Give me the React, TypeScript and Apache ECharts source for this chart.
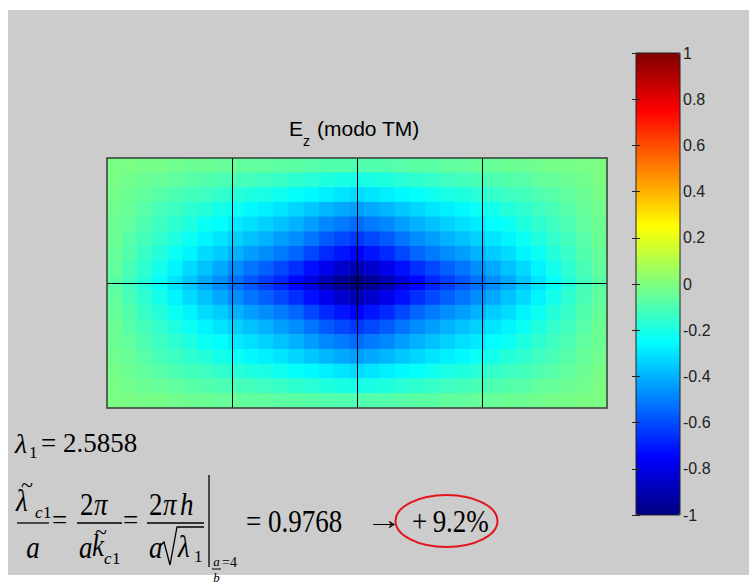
import React, { useEffect, useRef } from 'react';
import * as echarts from 'echarts';

// Ez field (TM mode), one quadrant:
// rows go from the centre line outward (vertical), columns from the centre column outward (horizontal).
// The field is mirror-symmetric about both centre lines.
const fieldQuadrant: number[][] = [
  [-1.00,-0.95,-0.89,-0.81,-0.74,-0.68,-0.63,-0.58,-0.53,-0.47,-0.42,-0.36,-0.30,-0.24,-0.18,-0.12,-0.07],
  [-0.89,-0.85,-0.79,-0.72,-0.66,-0.61,-0.56,-0.52,-0.47,-0.42,-0.37,-0.32,-0.27,-0.21,-0.16,-0.11,-0.06],
  [-0.75,-0.71,-0.67,-0.61,-0.55,-0.51,-0.47,-0.44,-0.40,-0.35,-0.32,-0.27,-0.23,-0.18,-0.14,-0.09,-0.05],
  [-0.64,-0.61,-0.57,-0.52,-0.47,-0.44,-0.40,-0.37,-0.34,-0.30,-0.27,-0.23,-0.19,-0.15,-0.12,-0.08,-0.04],
  [-0.54,-0.51,-0.48,-0.44,-0.40,-0.37,-0.34,-0.31,-0.29,-0.25,-0.23,-0.19,-0.16,-0.13,-0.10,-0.06,-0.04],
  [-0.44,-0.42,-0.39,-0.36,-0.33,-0.30,-0.28,-0.26,-0.23,-0.21,-0.18,-0.16,-0.13,-0.11,-0.08,-0.05,-0.03],
  [-0.32,-0.30,-0.28,-0.26,-0.24,-0.22,-0.20,-0.19,-0.17,-0.15,-0.13,-0.12,-0.10,-0.08,-0.06,-0.04,-0.02],
  [-0.21,-0.20,-0.19,-0.17,-0.16,-0.14,-0.13,-0.12,-0.11,-0.10,-0.09,-0.08,-0.06,-0.05,-0.04,-0.03,-0.01],
  [-0.10,-0.09,-0.09,-0.08,-0.07,-0.07,-0.06,-0.06,-0.05,-0.05,-0.04,-0.04,-0.03,-0.02,-0.02,-0.01,-0.01],
];

const jetColors = ['#00007F', '#0000FF', '#007FFF', '#00FFFF', '#7FFF7F', '#FFFF00', '#FF7F00', '#FF0000', '#7F0000'];
const colorMin = -1;
const colorMax = 1;
const colorStep = 0.2;

const lambdaText = '= 2.5858';
const ratioText = '= 0.9768';
const changeText = '+\u20099.2%';

const SERIF = 'Liberation Serif';
const SANS = 'Liberation Sans';

function txt(text: string, x: number, y: number, size: number, italic = false, align = 'left', scaleY = 1, family = SERIF, scaleX = 1) {
  const style: any = { text, fontSize: size, fontFamily: family, fill: '#000', align, verticalAlign: 'middle' };
  if (italic) style.fontStyle = 'italic';
  return { type: 'text', x, y, scaleY, scaleX, z: 50, style };
}
function ln(x1: number, y1: number, x2: number, y2: number, w = 1.3) {
  return { type: 'line', z: 50, shape: { x1, y1, x2, y2 }, style: { stroke: '#000', lineWidth: w } };
}

export default function App() {
  const ref = useRef<HTMLDivElement>(null);
  useEffect(() => {
    if (!ref.current) return;
    const chart = echarts.init(ref.current, undefined, { renderer: 'svg' });
    // mirror the quadrant into the full field (rows top -> bottom)
    const mirrorRow = (q: number[]) => [...q.slice(1).reverse(), ...q];
    const halfRows = fieldQuadrant.map(mirrorRow);
    const fieldRows = [...halfRows.slice(1).reverse(), ...halfRows];
    const nRows = fieldRows.length;
    const xCats = fieldRows[0].map((_, i) => String(i));
    const yCats = fieldRows.map((_, j) => String(j));
    const data: number[][] = [];
    fieldRows.forEach((row, r) => row.forEach((v, i) => data.push([i, nRows - 1 - r, v])));
    const S2 = 1.15;
    const graphic: any[] = [
      { type: 'rect', z: 100, shape: { x: 107, y: 158, width: 500, height: 250 }, style: { fill: 'none', stroke: '#3a3a3a', lineWidth: 1.5 } },
      { type: 'rect', z: 100, shape: { x: 636, y: 53, width: 44, height: 462 }, style: { fill: 'none', stroke: '#222', lineWidth: 1 } },
      txt('E', 289, 128, 21, false, 'left', 1, SANS),
      txt('z', 303, 141, 14, false, 'left', 1, SANS),
      txt('(modo TM)', 317, 128, 21, false, 'left', 1, SANS),
      // line 1
      txt('λ', 15, 443, 28, true),
      txt('1', 29, 452, 17),
      txt(lambdaText, 41, 443, 27),
      // fraction 1
      txt('λ', 16, 500, 27, true, 'left', S2),
      txt('~', 27, 484, 22, false, 'center'),
      txt('c', 35, 512, 17, true),
      txt('1', 43, 512, 17),
      ln(17, 523, 49, 523),
      txt('a', 33, 547, 27, true, 'center', S2),
      txt('=', 52, 520, 27),
      // fraction 2
      txt('2', 80, 504, 27, false, 'left', S2),
      txt('π', 94, 504, 27, true, 'left', S2),
      ln(77, 523, 122, 523),
      txt('a', 79, 547, 27, true, 'left', S2),
      txt('k', 92, 545, 27, true, 'left', S2),
      txt('~', 101, 531, 22, false, 'center'),
      txt('c', 104, 558, 17, true),
      txt('1', 112, 558, 17),
      txt('=', 123, 520, 27),
      // fraction 3
      txt('2', 149, 504, 27, false, 'left', S2),
      txt('π', 163, 504, 27, true, 'left', S2),
      txt('h', 180, 504, 27, true, 'left', S2),
      ln(147, 523, 204, 523),
      txt('a', 149, 547, 27, true, 'left', S2),
      { type: 'polyline', z: 50, shape: { points: [[160, 546], [164, 542], [170, 565], [177, 527], [204, 527]] }, style: { stroke: '#000', lineWidth: 1.3, fill: 'none' } },
      txt('λ', 178, 546, 27, true, 'left', S2),
      txt('1', 194, 556, 17),
      ln(209, 475, 209, 567, 1.3),
      txt('a', 216.5, 561, 13, true, 'center'),
      ln(212, 569, 221, 569, 1),
      txt('b', 216.5, 577, 13, true, 'center'),
      txt('=4', 222, 562, 14),
      txt(ratioText, 246, 521, 27, false, 'left', 1.2),
      txt('→', 366, 520, 27, false, 'left', 1, SERIF, 1.35),
      txt(changeText, 412, 521, 27, false, 'left', 1.2),
      { type: 'ellipse', z: 60, shape: { cx: 446.5, cy: 521, rx: 51, ry: 26 }, style: { fill: 'none', stroke: '#e3141c', lineWidth: 2 } },
    ];
    chart.setOption({
      animation: false,
      backgroundColor: 'transparent',
      grid: [
        { left: 107, top: 158, width: 500, height: 250 },
        { left: 636, top: 53, width: 44, height: 462 },
      ],
      xAxis: [
        { type: 'category', gridIndex: 0, data: xCats, show: false },
        { type: 'value', gridIndex: 0, min: 0, max: 4, interval: 1, z: 10,
          axisLine: { show: false }, axisTick: { show: false }, axisLabel: { show: false },
          splitLine: { show: true, showMinLine: false, showMaxLine: false, lineStyle: { color: '#000', width: 1 } } },
        { type: 'value', gridIndex: 1, min: 0, max: 1, show: false },
      ],
      yAxis: [
        { type: 'category', gridIndex: 0, data: yCats, show: false },
        { type: 'value', gridIndex: 0, min: 0, max: 2, interval: 1, z: 10,
          axisLine: { show: false }, axisTick: { show: false }, axisLabel: { show: false },
          splitLine: { show: true, showMinLine: false, showMaxLine: false, lineStyle: { color: '#000', width: 1 } } },
        { type: 'value', gridIndex: 1, min: colorMin, max: colorMax, interval: colorStep, position: 'right', z: 10,
          axisLine: { show: false }, splitLine: { show: false },
          axisTick: { show: true, inside: true, length: 4, lineStyle: { color: '#222' } },
          axisLabel: { show: true, margin: 3, fontSize: 16, color: '#222', fontFamily: 'Liberation Sans' } },
        { type: 'value', gridIndex: 1, min: colorMin, max: colorMax, interval: colorStep, position: 'left', z: 10,
          axisLine: { show: false }, splitLine: { show: false },
          axisTick: { show: true, inside: true, length: 4, lineStyle: { color: '#222' } },
          axisLabel: { show: false } },
      ],
      visualMap: {
        type: 'continuous', min: colorMin, max: colorMax, seriesIndex: 0,
        left: 636, top: 53, itemWidth: 44, itemHeight: 462, padding: 0,
        calculable: false, hoverLink: false, inRange: { color: jetColors },
        textStyle: { color: 'transparent' },
      },
      series: [
        { type: 'heatmap', xAxisIndex: 0, yAxisIndex: 0, data, progressive: 0,
          emphasis: { disabled: true }, itemStyle: { borderWidth: 0 } },
      ],
      graphic,
    });
    return () => chart.dispose();
  }, []);
  return (
    <div style={{ position: 'fixed', left: 0, top: 0, width: 749, height: 583, background: '#fff' }}>
      <div style={{ position: 'absolute', left: 8, top: 10, width: 741, height: 565, background: '#cccccc' }} />
      <div ref={ref} style={{ position: 'absolute', left: 0, top: 0, width: 749, height: 583 }} />
    </div>
  );
}
